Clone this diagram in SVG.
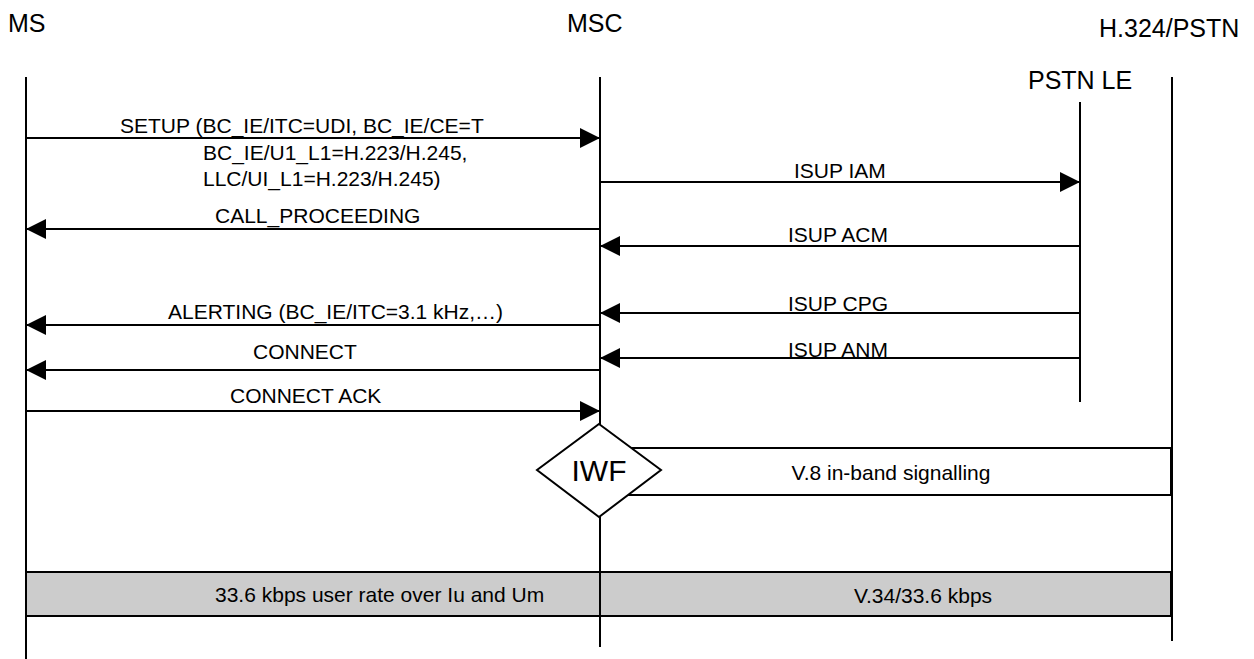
<svg xmlns="http://www.w3.org/2000/svg" width="1254" height="659" viewBox="0 0 1254 659">
  <style>
    text { font-family: "Liberation Sans", Arial, sans-serif; fill: #000; }
    .title { font-size: 25px; }
    .msg { font-size: 21px; }
    .iwf { font-size: 30px; }
    .life { stroke: #000; stroke-width: 2; fill: none; }
    .arrow { stroke: #000; stroke-width: 2; fill: none; marker-end: url(#head); }
    .box { stroke: #000; stroke-width: 2; fill: #fff; }
    .bar { stroke: #000; stroke-width: 2; fill: #cccccc; }
  </style>
  <defs>
    <marker id="head" markerUnits="userSpaceOnUse" markerWidth="20" markerHeight="20" refX="20" refY="10" orient="auto">
      <path d="M0,0 L20,10 L0,20 z" fill="#000"/>
    </marker>
  </defs>

  <!-- entity headers -->
  <g id="ms">
    <text class="title" x="8" y="32">MS</text>
    <line class="life" x1="26" y1="77" x2="26" y2="659"/>
  </g>
  <g id="msc">
    <text class="title" x="567" y="32">MSC</text>
    <line class="life" x1="600" y1="77" x2="600" y2="647"/>
  </g>
  <g id="pstn-le">
    <text class="title" x="1028" y="89">PSTN LE</text>
    <line class="life" x1="1080" y1="102" x2="1080" y2="402"/>
  </g>
  <g id="h324">
    <text class="title" x="1099" y="37">H.324/PSTN</text>
    <line class="life" x1="1172" y1="77" x2="1172" y2="641"/>
  </g>

  <!-- V.8 in-band signalling span -->
  <g id="v8">
    <rect class="box" x="600" y="448" width="571" height="47"/>
    <text class="msg" x="891" y="480" text-anchor="middle">V.8 in-band signalling</text>
  </g>

  <!-- interworking function -->
  <g id="iwf">
    <polygon class="box" points="599,424 661,470 599,517 537,470"/>
    <text class="iwf" x="599" y="481" text-anchor="middle">IWF</text>
  </g>

  <!-- user-rate bar -->
  <g id="rate-bar">
    <rect class="bar" x="26" y="572" width="1145" height="44"/>
    <line class="life" x1="600" y1="572" x2="600" y2="616"/>
    <text class="msg" x="215" y="602">33.6 kbps user rate over Iu and Um</text>
    <text class="msg" x="923" y="603" text-anchor="middle">V.34/33.6 kbps</text>
  </g>

  <!-- signalling messages -->
  <g id="connectors">
    <line class="arrow" x1="26" y1="138" x2="600" y2="138"/>
    <text class="msg" x="120" y="133">SETUP (BC_IE/ITC=UDI, BC_IE/CE=T</text>
    <text class="msg" x="203" y="160">BC_IE/U1_L1=H.223/H.245,</text>
    <text class="msg" x="203" y="186">LLC/UI_L1=H.223/H.245)</text>

    <line class="arrow" x1="600" y1="182" x2="1080" y2="182"/>
    <text class="msg" x="794" y="178">ISUP IAM</text>

    <line class="arrow" x1="600" y1="229" x2="26" y2="229"/>
    <text class="msg" x="215" y="223">CALL_PROCEEDING</text>

    <line class="arrow" x1="1080" y1="246" x2="600" y2="246"/>
    <text class="msg" x="788" y="242">ISUP ACM</text>

    <line class="arrow" x1="1080" y1="313" x2="600" y2="313"/>
    <text class="msg" x="788" y="311">ISUP CPG</text>

    <line class="arrow" x1="600" y1="325" x2="26" y2="325"/>
    <text class="msg" x="168" y="319">ALERTING (BC_IE/ITC=3.1 kHz,…)</text>

    <line class="arrow" x1="1080" y1="358" x2="600" y2="358"/>
    <text class="msg" x="788" y="357">ISUP ANM</text>

    <line class="arrow" x1="600" y1="370" x2="26" y2="370"/>
    <text class="msg" x="253" y="359">CONNECT</text>

    <line class="arrow" x1="26" y1="411" x2="600" y2="411"/>
    <text class="msg" x="230" y="403">CONNECT ACK</text>
  </g>
</svg>
